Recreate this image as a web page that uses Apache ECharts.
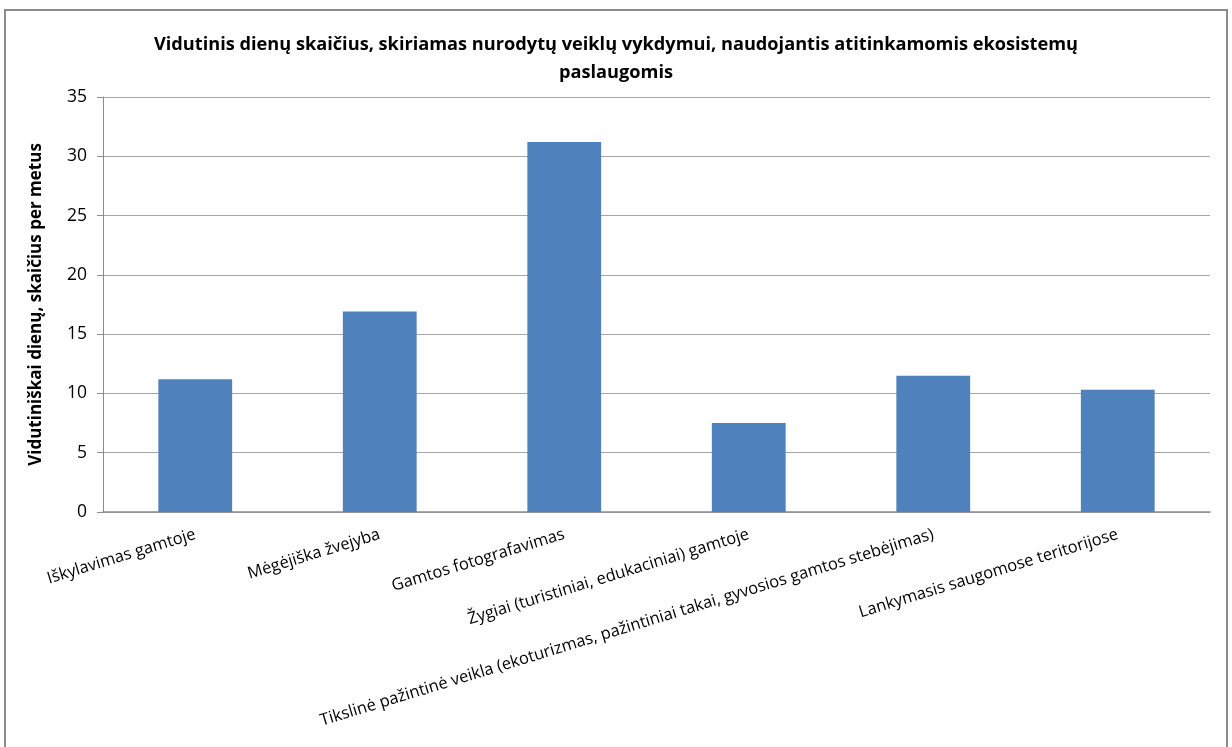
<!DOCTYPE html>
<html>
<head>
<meta charset="utf-8">
<script src="https://cdn.jsdelivr.net/npm/echarts@6/dist/echarts.min.js"></script>
<style>
  html, body { margin: 0; padding: 0; background: #ffffff; }
  #chart { width: 1232px; height: 747px; }
</style>
</head>
<body>
<div id="chart"></div>
<script>
// Activity categories
const categories = [
  'Iškylavimas gamtoje',
  'Mėgėjiška žvejyba',
  'Gamtos fotografavimas',
  'Žygiai (turistiniai, edukaciniai) gamtoje',
  'Tikslinė pažintinė veikla (ekoturizmas, pažintiniai takai, gyvosios gamtos stebėjimas)',
  'Lankymasis saugomose teritorijose'
];

// Average number of days per year
const dayValues = [11.2, 16.9, 31.2, 7.5, 11.5, 10.3];

// Value axis ticks
const yMin = 0;
const yMax = 35;
const yStep = 5;

const titleText = 'Vidutinis dienų skaičius, skiriamas nurodytų veiklų vykdymui, naudojantis atitinkamomis ekosistemų\npaslaugomis';
const yAxisTitle = 'Vidutiniškai dienų, skaičius per metus';

const chart = echarts.init(document.getElementById('chart'), null, { renderer: 'canvas' });

chart.setOption({
  backgroundColor: '#ffffff',
  animation: false,
  title: {
    text: titleText,
    left: 'center',
    top: 26,
    textStyle: {
      fontFamily: 'Open Sans',
      fontWeight: 'bold',
      fontSize: 18.2,
      lineHeight: 28,
      color: '#000000'
    }
  },
  graphic: [{
    type: 'rect',
    shape: { x: 5, y: 10, width: 1222, height: 760 },
    style: { fill: 'none', stroke: '#8c8c8c', lineWidth: 2 },
    silent: true
  }],
  grid: {
    left: 103,
    right: 22,
    top: 97,
    bottom: 235,
    containLabel: false
  },
  xAxis: {
    type: 'category',
    data: categories,
    boundaryGap: true,
    axisLine: { show: true, lineStyle: { color: '#8c8c8c', width: 1.5 } },
    axisTick: { show: false },
    axisLabel: {
      interval: 0,
      rotate: 17,
      margin: 22,
      fontFamily: 'Open Sans',
      fontSize: 16.5,
      color: '#000000'
    },
    splitLine: { show: false }
  },
  yAxis: {
    type: 'value',
    min: yMin,
    max: yMax,
    interval: yStep,
    name: yAxisTitle,
    nameLocation: 'middle',
    nameGap: 58,
    nameRotate: 90,
    nameTextStyle: {
      fontFamily: 'Open Sans',
      fontWeight: 'bold',
      fontSize: 17,
      color: '#000000'
    },
    axisLine: { show: true, lineStyle: { color: '#8c8c8c', width: 1 } },
    axisTick: { show: true, inside: false, length: 6, lineStyle: { color: '#8c8c8c' } },
    axisLabel: {
      margin: 16,
      fontFamily: 'Open Sans',
      fontSize: 17.5,
      color: '#000000'
    },
    splitLine: { show: true, lineStyle: { color: '#a6a6a6', width: 1.2 } }
  },
  series: [{
    type: 'bar',
    data: dayValues,
    barCategoryGap: '60%',
    itemStyle: { color: '#4f81bd' },
    label: { show: false }
  }]
});
</script>
</body>
</html>
